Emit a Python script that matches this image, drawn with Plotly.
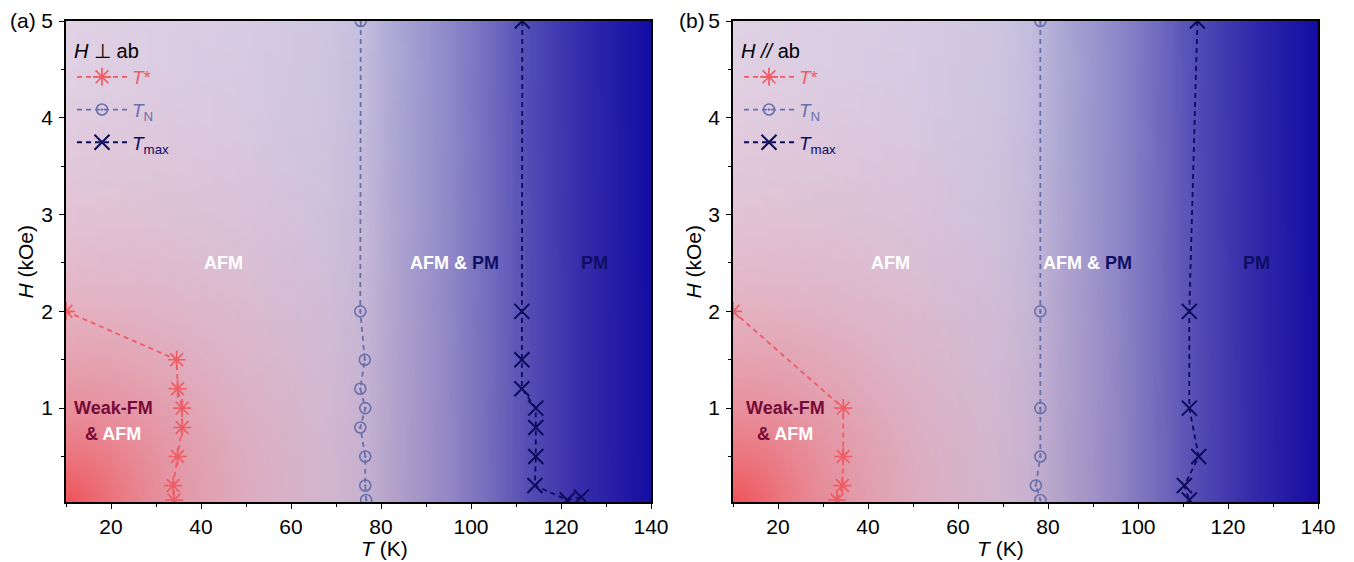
import numpy as np
import plotly.graph_objects as go

# ---------------- data ----------------
# Panel (a): H perpendicular to ab
a_tstar_T = [10.0, 34.6, 34.8, 35.8, 35.8, 34.8, 33.8, 34.0]
a_tstar_H = [2.0, 1.5, 1.2, 1.0, 0.8, 0.5, 0.2, 0.05]
a_tn_T = [75.5, 75.4, 76.4, 75.4, 76.5, 75.4, 76.5, 76.5, 76.7]
a_tn_H = [5.0, 2.0, 1.5, 1.2, 1.0, 0.8, 0.5, 0.2, 0.05]
a_tmax_T = [111.4, 111.3, 111.3, 111.3, 114.4, 114.4, 114.4, 114.2, 121.4, 124.5]
a_tmax_H = [5.0, 2.0, 1.5, 1.2, 1.0, 0.8, 0.5, 0.2, 0.05, 0.08]

# Panel (b): H parallel to ab
b_tstar_T = [10.0, 34.5, 34.5, 34.3, 33.1]
b_tstar_H = [2.0, 1.0, 0.5, 0.2, 0.05]
b_tn_T = [78.3, 78.3, 78.3, 78.3, 77.3, 78.3]
b_tn_H = [5.0, 2.0, 1.0, 0.5, 0.2, 0.05]
b_tmax_T = [113.2, 111.4, 111.4, 113.5, 110.3, 111.4]
b_tmax_H = [5.0, 2.0, 1.0, 0.5, 0.2, 0.05]

x_ticks = [20, 40, 60, 80, 100, 120, 140]
y_ticks = [1, 2, 3, 4, 5]

# ---------------- styling ----------------
FONT = "Liberation Sans, Arial, Helvetica, sans-serif"
C_TSTAR = "rgb(238,92,100)"
C_TN = "rgb(104,112,172)"
C_TMAX = "rgb(12,12,92)"
C_MAROON = "rgb(118,10,56)"
C_NAVY = "rgb(14,14,100)"

# background gradient (style, not data)
bg_T = np.linspace(10, 140, 131)
bg_H = np.linspace(0, 5, 51)
blue_scale = [
    [0.0, "rgb(224,216,236)"],
    [(50 - 10) / 130, "rgb(215,208,233)"],
    [(68 - 10) / 130, "rgb(205,202,230)"],
    [(76 - 10) / 130, "rgb(194,192,226)"],
    [(82 - 10) / 130, "rgb(174,173,217)"],
    [(95 - 10) / 130, "rgb(140,139,205)"],
    [(105 - 10) / 130, "rgb(108,106,193)"],
    [(113 - 10) / 130, "rgb(78,76,184)"],
    [(125 - 10) / 130, "rgb(48,42,172)"],
    [1.0, "rgb(18,12,165)"],
]
TT, HH = np.meshgrid(bg_T, bg_H)
z_blue = TT
dist = np.sqrt(((TT - 10) / 40.0) ** 2 + (HH / 2.0) ** 2)
z_red = 0.95 * np.exp(-1.25 * dist)
red_scale = [[0.0, "rgba(240,72,76,0)"], [1.0, "rgba(240,72,76,1)"]]

fig = go.Figure()

panels = [
    dict(xa="x", ya="y", leg="legend", tag="a",
         data=[(a_tstar_T, a_tstar_H), (a_tn_T, a_tn_H), (a_tmax_T, a_tmax_H)]),
    dict(xa="x2", ya="y2", leg="legend2", tag="b",
         data=[(b_tstar_T, b_tstar_H), (b_tn_T, b_tn_H), (b_tmax_T, b_tmax_H)]),
]

names = [
    f"<span style='color:{C_TSTAR}'><i>T</i>*</span>",
    f"<span style='color:{C_TN}'><i>T</i><sub>N</sub></span>",
    f"<span style='color:{C_TMAX}'><i>T</i><sub>max</sub></span>",
]
styles = [
    dict(color=C_TSTAR, symbol="asterisk-open", size=15, lw=1.7),
    dict(color=C_TN, symbol="circle-open-dot", size=11, lw=1.6),
    dict(color=C_TMAX, symbol="x-thin-open", size=15, lw=2.0),
]

for p in panels:
    fig.add_trace(go.Heatmap(x=bg_T, y=bg_H, z=z_blue, colorscale=blue_scale,
                             zmin=10, zmax=140, showscale=False, zsmooth="best",
                             hoverinfo="skip", xaxis=p["xa"], yaxis=p["ya"]))
    fig.add_trace(go.Heatmap(x=bg_T, y=bg_H, z=z_red, colorscale=red_scale,
                             zmin=0, zmax=1, showscale=False, zsmooth="best",
                             hoverinfo="skip", xaxis=p["xa"], yaxis=p["ya"]))
    for i, ((tx, hy), nm, st) in enumerate(zip(p["data"], names, styles)):
        fig.add_trace(go.Scatter(
            x=tx, y=hy, mode="lines+markers", name=nm,
            legendgroup=f"{p['tag']}{i}",
            line=dict(color=st["color"], width=1.8, dash="5px,4px"),
            marker=dict(symbol=st["symbol"], size=st["size"], color=st["color"],
                        line=dict(color=st["color"], width=st["lw"])),
            xaxis=p["xa"], yaxis=p["ya"], legend=p["leg"], showlegend=True))

W, Hh = 1354, 562
OFF = 8  # page body margin in the browser


def px(x):
    return (x - OFF) / W


def py(y):
    return 1 - (y - OFF) / Hh


xa_dom = [px(66), px(651)]
xb_dom = [px(733), px(1318)]
y_dom = [py(502), py(21)]

axis_common = dict(
    showline=True, linecolor="black", linewidth=1.6, mirror=True,
    ticks="outside", ticklen=5, tickwidth=1.4, tickcolor="black",
    showgrid=False, zeroline=False, automargin=False,
    tickfont=dict(family=FONT, size=21, color="black"),
)
xaxis_common = dict(axis_common, range=[10, 140], tickvals=x_ticks,
                    minor=dict(dtick=10, tick0=0, ticks="outside", ticklen=3,
                               tickcolor="black", tickwidth=1.2))
yaxis_common = dict(axis_common, range=[0.03, 5], tickvals=y_ticks, ticklabelstandoff=2,
                    minor=dict(dtick=0.5, tick0=0, ticks="outside", ticklen=3,
                               tickcolor="black", tickwidth=1.2))

leg_common = dict(xanchor="left", yanchor="top", bgcolor="rgba(0,0,0,0)",
                  font=dict(family=FONT, size=19), tracegroupgap=5, itemwidth=50,
                  itemclick=False, itemdoubleclick=False)

fig.update_layout(
    width=W, height=Hh,
    margin=dict(l=0, r=0, t=0, b=0, autoexpand=False),
    paper_bgcolor="white", plot_bgcolor="white",
    font=dict(family=FONT, color="black"),
    xaxis=dict(xaxis_common, domain=xa_dom, anchor="y"),
    yaxis=dict(yaxis_common, domain=y_dom, anchor="x"),
    xaxis2=dict(xaxis_common, domain=xb_dom, anchor="y2"),
    yaxis2=dict(yaxis_common, domain=y_dom, anchor="x2"),
    legend=dict(leg_common, x=px(72), y=py(32),
                title=dict(text="<i>H</i> ⊥ ab", font=dict(family=FONT, size=20, color="black"))),
    legend2=dict(leg_common, x=px(739), y=py(32),
                 title=dict(text="<i>H</i> <i>//</i> ab", font=dict(family=FONT, size=20, color="black"))),
)

ann = []


def lab(text, x, y, xref, yref, color, size=18):
    ann.append(dict(text=f"<b>{text}</b>", x=x, y=y, xref=xref, yref=yref, showarrow=False,
                    font=dict(family=FONT, size=size, color=color)))


for xr, yr, afm_x, mix_x, pm_x, wk_x in [("x", "y", 45, 96.4, 127.5, 20.5),
                                        ("x2", "y2", 45, 88.7, 126.4, 21.6)]:
    lab("AFM", afm_x, 2.5, xr, yr, "white")
    lab(f"AFM & <span style='color:{C_NAVY}'>PM</span>", mix_x, 2.5, xr, yr, "white")
    lab("PM", pm_x, 2.5, xr, yr, C_NAVY)
    lab("Weak-FM", wk_x, 1.0, xr, yr, C_MAROON)
    lab("& <span style='color:white'>AFM</span>", wk_x, 0.73, xr, yr, C_MAROON)

# axis titles
for dom in (xa_dom, xb_dom):
    ann.append(dict(text="<i>T</i> (K)", x=(dom[0] + dom[1]) / 2, y=py(548),
                    xref="paper", yref="paper", showarrow=False, yanchor="middle",
                    font=dict(family=FONT, size=21, color="black")))
for xpx in (25, 693):
    ann.append(dict(text="<i>H</i> (kOe)", x=px(xpx), y=(y_dom[0] + y_dom[1]) / 2,
                    xref="paper", yref="paper", showarrow=False, textangle=-90,
                    xanchor="center", yanchor="middle",
                    font=dict(family=FONT, size=21, color="black")))

ann.append(dict(text="(a)", x=0, y=py(20), xref="paper", yref="paper",
                xanchor="left", yanchor="middle", showarrow=False,
                font=dict(family=FONT, size=21, color="black")))
ann.append(dict(text="(b)", x=px(677), y=py(20), xref="paper", yref="paper",
                xanchor="left", yanchor="middle", showarrow=False,
                font=dict(family=FONT, size=21, color="black")))
fig.update_layout(annotations=ann)

fig.write_html("out.html")
